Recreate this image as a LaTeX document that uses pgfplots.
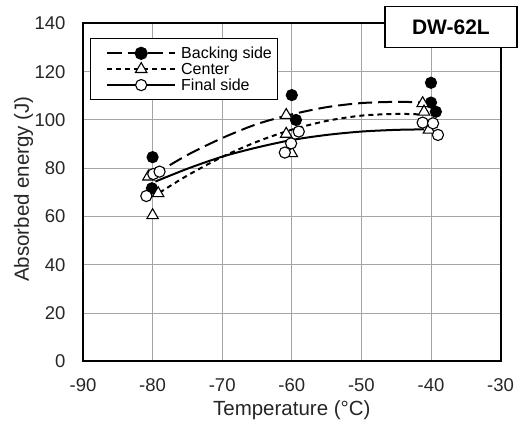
\documentclass[border=0pt]{standalone}
\usepackage{fontspec}
\setmainfont{Liberation Sans}
\usepackage{pgfplots}
\pgfplotsset{compat=1.18}
\definecolor{gridgray}{RGB}{165,165,165}
\begin{document}
\begin{tikzpicture}[x=1pt,y=1pt]
\path[use as bounding box] (-83,-63.5) rectangle (437,361.4);
\begin{axis}[
  at={(0,0)}, anchor=south west,
  scale only axis, width=417.6pt, height=338pt,
  xmin=-90, xmax=-30, ymin=0, ymax=140,
  xtick={-90,-80,...,-30}, ytick={0,20,...,140},
  grid=major, major grid style={gridgray, line width=1pt},
  major tick length=0pt,
  axis line style={black, line width=1.8pt},
  /pgf/number format/assume math mode=true,
  tick label style={font=\fontsize{18.5}{20}\selectfont, text=black!85},
  xticklabel style={anchor=center, yshift=-23.5pt},
  yticklabel style={anchor=east, xshift=-14pt},
  xlabel={Temperature (°C)}, ylabel={Absorbed energy (J)},
  label style={font=\fontsize{20.5}{23}\selectfont, text=black!85},
  xlabel style={at={(axis description cs:0.5,0)}, anchor=center, yshift=-48.5pt},
  ylabel style={at={(axis description cs:-0.1425,0.51)}, anchor=center},
  clip=false,
  legend cell align=left,
  legend style={at={(0.016,0.956)}, anchor=north west, draw=black, line width=1pt,
    font=\fontsize{16}{17.5}\selectfont, row sep=-1pt, inner xsep=4pt, inner ysep=6pt},
  legend image code/.code={\path (0pt,0pt); \path (83pt,0pt); \draw[mark repeat=2,mark phase=2,#1] plot coordinates {(12pt,0pt) (46pt,0pt) (80pt,0pt)};},
]
% fitted curves
\addplot[black, line width=2pt, dash pattern=on 14pt off 6pt, smooth, forget plot] coordinates {
(-80,77) (-75,85.5) (-70,92.5) (-65,98.3) (-60,102.3) (-55,105.3) (-50,107) (-45,107.5) (-41.5,107.3)};
\addplot[black, line width=2pt, dash pattern=on 5pt off 4pt, smooth, forget plot] coordinates {
(-79,69.9) (-75,77) (-70,84.7) (-65,91) (-60,96) (-55,99.6) (-50,101.8) (-45,102.5) (-41.5,102.3)};
\addplot[black, line width=2pt, smooth, forget plot] coordinates {
(-79.6,74.5) (-75,79.8) (-70,84.8) (-65,88.6) (-60,91.7) (-55,93.8) (-50,95.2) (-45,95.9) (-41,96.1)};
% data points
\addplot[only marks, mark=*, mark size=5.6pt, mark options={fill=black, draw=black, line width=1pt}, forget plot] coordinates {
(-80,84.6) (-80.1,71.7) (-60,110.3) (-59.4,100) (-40,115.4) (-40,107.2) (-39.3,103.4)};
\addplot[only marks, mark=triangle*, mark size=6.6pt, mark options={fill=white, draw=black, line width=1.1pt, solid}, forget plot] coordinates {
(-80.6,76.5) (-79.2,69.6) (-80,60.5) (-60.8,102) (-60.8,94.2) (-60,86.2) (-41.2,106.9) (-41,103.4) (-40.3,95.9)};
\addplot[only marks, mark=*, mark size=5.6pt, mark options={fill=white, draw=black, line width=1.1pt}, forget plot] coordinates {
(-79.9,77.6) (-79,78.6) (-80.9,68.5) (-59,95.2) (-60.1,90.3) (-61,86.5) (-41.2,98.9) (-39.7,98.6) (-39,93.8)};
% legend
\addlegendimage{black, line width=2pt, dash pattern=on 15pt off 5.5pt, mark=*, mark size=5.6pt, mark options={solid, fill=black}}
\addlegendentry{Backing side}
\addlegendimage{black, line width=2pt, dash pattern=on 5pt off 4pt, mark=triangle*, mark size=6.6pt, mark options={solid, fill=white, line width=1.1pt}}
\addlegendentry{Center}
\addlegendimage{black, line width=2pt, mark=*, mark size=5.6pt, mark options={solid, fill=white, line width=1.1pt}}
\addlegendentry{Final side}
\coordinate (dw) at (rel axis cs:0.881,0.989);
\end{axis}
\node[draw=black, line width=1.6pt, fill=white, minimum width=132pt, minimum height=41pt, inner sep=0pt,
  font=\fontsize{21}{24}\selectfont\bfseries] at (dw) {DW-62L};
\end{tikzpicture}
\end{document}
